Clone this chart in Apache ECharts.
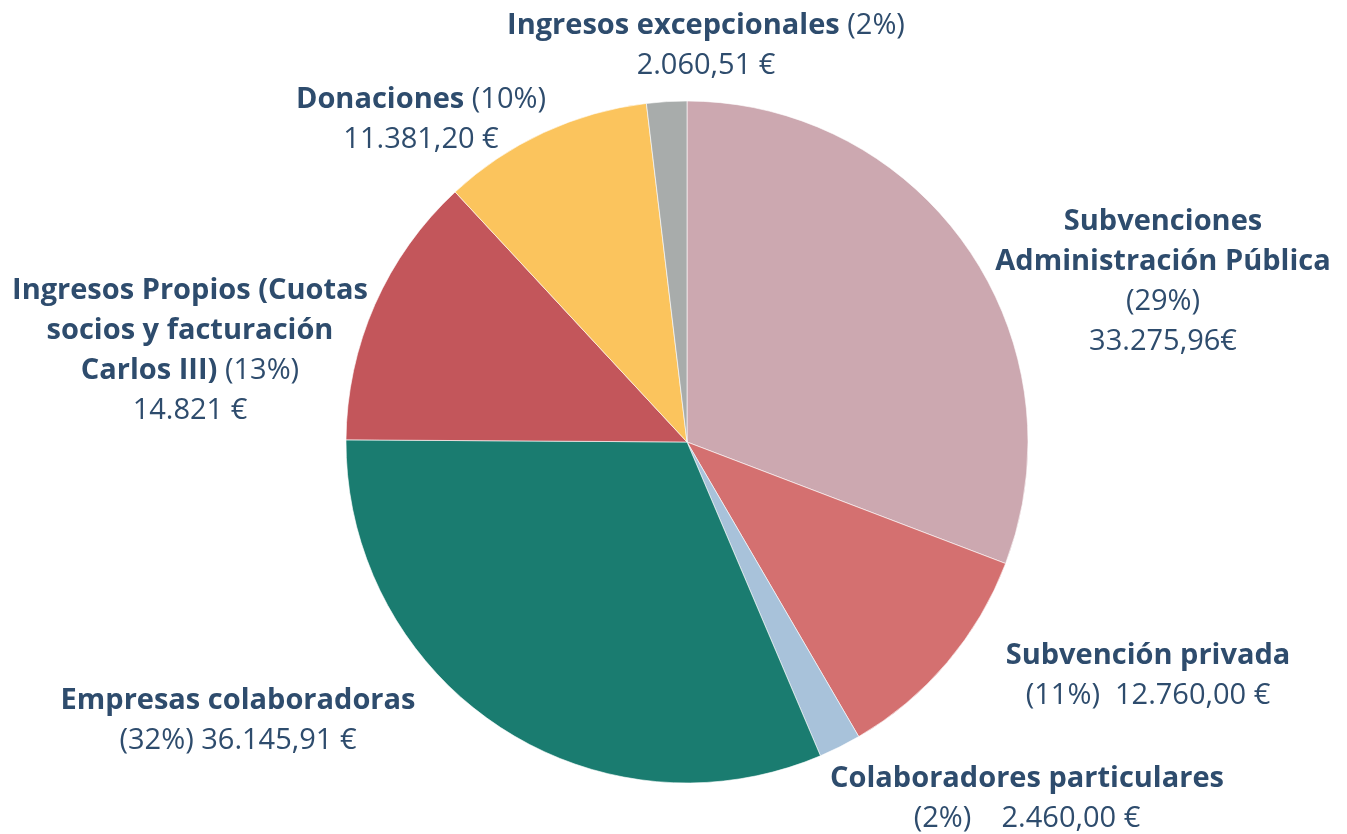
<!DOCTYPE html>
<html>
<head>
<meta charset="utf-8">
<script src="https://cdn.jsdelivr.net/npm/echarts@6/dist/echarts.min.js"></script>
<style>
  html, body { margin: 0; padding: 0; background: #fff; }
  #chart { width: 1347px; height: 834px; }
</style>
</head>
<body>
<div id="chart"></div>
<script>
// == Data ====================================================================

const categories = [
  'Subvenciones Administración Pública',
  'Subvención privada',
  'Colaboradores particulares',
  'Empresas colaboradoras',
  'Ingresos Propios (Cuotas socios y facturación Carlos III)',
  'Donaciones',
  'Ingresos excepcionales'
]
// slice shares (%) as drawn in the picture
const shares = [30.8, 10.8, 2.0, 31.5, 13.0, 10.0, 1.9]
// texts printed next to each slice
const percentLabels = ['(29%)', '(11%)', '(2%)', '(32%)', '(13%)', '(10%)', '(2%)']
const amountLabels = ['33.275,96€', '12.760,00 €', '2.460,00 €', '36.145,91 €', '14.821 €', '11.381,20 €', '2.060,51 €']
const colors = ['#cca8b0', '#d47070', '#a8c2da', '#1a7c70', '#c3565b', '#fbc45d', '#a8acab']

// == Label layout (positions only) ===========================================

const labelSpots = [
  [1163, 282], [1148, 676], [1027, 799], [238, 721], [190, 351], [421, 120], [706, 46]
]

const labelText = function (i) {
  const p = percentLabels[i]
  const v = amountLabels[i]
  switch (i) {
    case 0: return '{b|Subvenciones}\n{b|Administración Pública}\n{n|' + p + '}\n{n|' + v + '}'
    case 1: return '{b|Subvención privada}\n{n|' + p + '  ' + v + '}'
    case 2: return '{b|Colaboradores particulares}\n{n|' + p + '    ' + v + '}'
    case 3: return '{b|Empresas colaboradoras}\n{n|' + p + ' ' + v + '}'
    case 4: return '{b|Ingresos Propios (Cuotas}\n{b|socios y facturación}\n{b|Carlos III) }{n|' + p + '}\n{n|' + v + '}'
    case 5: return '{b|Donaciones }{n|' + p + '}\n{n|' + v + '}'
    default: return '{b|Ingresos excepcionales }{n|' + p + '}\n{n|' + v + '}'
  }
}

const chart = echarts.init(document.getElementById('chart'))

chart.setOption({
  animation: false,
  color: colors,
  series: [{
    type: 'pie',
    center: [687, 442],
    radius: 341,
    startAngle: 90,
    clockwise: true,
    itemStyle: { borderColor: 'rgba(255,255,255,0.6)', borderWidth: 1 },
    labelLine: { show: false },
    label: {
      show: true,
      position: 'outside',
      align: 'center',
      overflow: 'none',
      formatter: p => labelText(p.dataIndex),
      rich: {
        b: { fontFamily: 'Open Sans', fontWeight: 'bold', fontSize: 29, color: '#2e4c6d', lineHeight: 40, align: 'center' },
        n: { fontFamily: 'Open Sans', fontWeight: 'normal', fontSize: 29, color: '#2e4c6d', lineHeight: 40, align: 'center' }
      }
    },
    labelLayout: function (params) {
      const s = labelSpots[params.dataIndex]
      return { x: s[0], y: s[1], align: 'center', verticalAlign: 'middle', hideOverlap: false }
    },
    data: categories.map((name, i) => ({ name: name, value: shares[i] }))
  }]
})
</script>
</body>
</html>
